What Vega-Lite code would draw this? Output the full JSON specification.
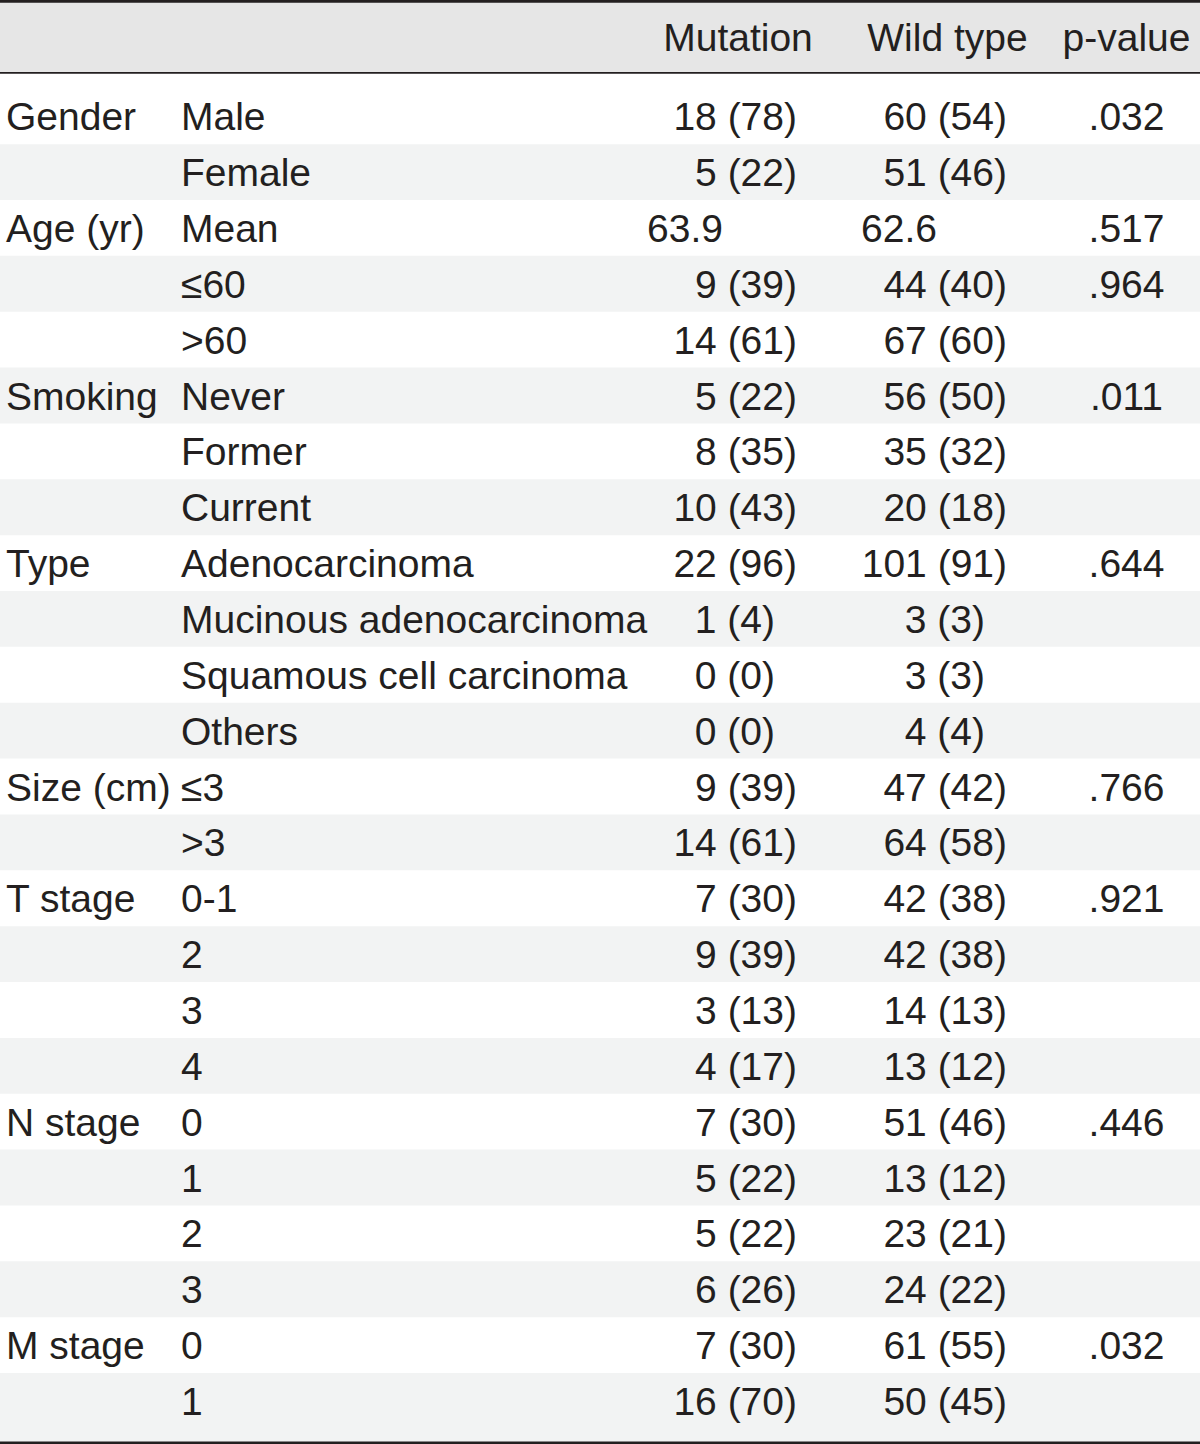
{
  "$schema": "https://vega.github.io/schema/vega-lite/v6.json",
  "width": 1200,
  "height": 1444,
  "autosize": "none",
  "padding": 0,
  "background": "#ffffff",
  "config": {
    "view": {"stroke": null},
    "text": {"font": "Liberation Sans, Arial, sans-serif", "fontSize": 39, "color": "#231f20", "baseline": "alphabetic", "dy": 14}
  },
  "data": {
    "values": [
      {"row": 1, "group": "Gender", "item": "Male", "mutation": "18 (78)", "wildType": "60 (54)", "p": ".032"},
      {"row": 2, "group": "", "item": "Female", "mutation": "5 (22)", "wildType": "51 (46)", "p": ""},
      {"row": 3, "group": "Age (yr)", "item": "Mean", "mutation": "63.9", "wildType": "62.6", "p": ".517"},
      {"row": 4, "group": "", "item": "≤60", "mutation": "9 (39)", "wildType": "44 (40)", "p": ".964"},
      {"row": 5, "group": "", "item": ">60", "mutation": "14 (61)", "wildType": "67 (60)", "p": ""},
      {"row": 6, "group": "Smoking", "item": "Never", "mutation": "5 (22)", "wildType": "56 (50)", "p": ".011"},
      {"row": 7, "group": "", "item": "Former", "mutation": "8 (35)", "wildType": "35 (32)", "p": ""},
      {"row": 8, "group": "", "item": "Current", "mutation": "10 (43)", "wildType": "20 (18)", "p": ""},
      {"row": 9, "group": "Type", "item": "Adenocarcinoma", "mutation": "22 (96)", "wildType": "101 (91)", "p": ".644"},
      {"row": 10, "group": "", "item": "Mucinous adenocarcinoma", "mutation": "1 (4)", "wildType": "3 (3)", "p": ""},
      {"row": 11, "group": "", "item": "Squamous cell carcinoma", "mutation": "0 (0)", "wildType": "3 (3)", "p": ""},
      {"row": 12, "group": "", "item": "Others", "mutation": "0 (0)", "wildType": "4 (4)", "p": ""},
      {"row": 13, "group": "Size (cm)", "item": "≤3", "mutation": "9 (39)", "wildType": "47 (42)", "p": ".766"},
      {"row": 14, "group": "", "item": ">3", "mutation": "14 (61)", "wildType": "64 (58)", "p": ""},
      {"row": 15, "group": "T stage", "item": "0-1", "mutation": "7 (30)", "wildType": "42 (38)", "p": ".921"},
      {"row": 16, "group": "", "item": "2", "mutation": "9 (39)", "wildType": "42 (38)", "p": ""},
      {"row": 17, "group": "", "item": "3", "mutation": "3 (13)", "wildType": "14 (13)", "p": ""},
      {"row": 18, "group": "", "item": "4", "mutation": "4 (17)", "wildType": "13 (12)", "p": ""},
      {"row": 19, "group": "N stage", "item": "0", "mutation": "7 (30)", "wildType": "51 (46)", "p": ".446"},
      {"row": 20, "group": "", "item": "1", "mutation": "5 (22)", "wildType": "13 (12)", "p": ""},
      {"row": 21, "group": "", "item": "2", "mutation": "5 (22)", "wildType": "23 (21)", "p": ""},
      {"row": 22, "group": "", "item": "3", "mutation": "6 (26)", "wildType": "24 (22)", "p": ""},
      {"row": 23, "group": "M stage", "item": "0", "mutation": "7 (30)", "wildType": "61 (55)", "p": ".032"},
      {"row": 24, "group": "", "item": "1", "mutation": "16 (70)", "wildType": "50 (45)", "p": ""}
    ]
  },
  "layer": [
    {
      "data": {"values": [{}]},
      "mark": {"type": "rule", "color": "#e6e6e6", "strokeWidth": 70},
      "encoding": {"y": {"datum": -0.418, "type": "quantitative", "scale": {"domain": [-1.0802, 24.77], "reverse": true, "nice": false, "zero": false}, "axis": null}}
    },
    {
      "transform": [{"filter": "datum.row % 2 == 0"}],
      "mark": {"type": "rule", "color": "#f2f3f3", "strokeWidth": 55.86},
      "encoding": {"y": {"field": "row", "type": "quantitative", "scale": {"domain": [-1.0802, 24.77], "reverse": true, "nice": false, "zero": false}, "axis": null}}
    },
    {
      "data": {"values": [{}]},
      "mark": {"type": "rule", "color": "#f2f3f3", "strokeWidth": 14},
      "encoding": {"y": {"datum": 24.62, "type": "quantitative", "scale": {"domain": [-1.0802, 24.77], "reverse": true, "nice": false, "zero": false}, "axis": null}}
    },
    {
      "data": {"values": [{}]},
      "mark": {"type": "rule", "color": "#231f20", "strokeWidth": 2.7},
      "encoding": {"y": {"datum": -1.057, "type": "quantitative", "scale": {"domain": [-1.0802, 24.77], "reverse": true, "nice": false, "zero": false}, "axis": null}}
    },
    {
      "data": {"values": [{}]},
      "mark": {"type": "rule", "color": "#231f20", "strokeWidth": 1.8},
      "encoding": {"y": {"datum": 0.223, "type": "quantitative", "scale": {"domain": [-1.0802, 24.77], "reverse": true, "nice": false, "zero": false}, "axis": null}}
    },
    {
      "data": {"values": [{}]},
      "mark": {"type": "rule", "color": "#231f20", "strokeWidth": 2.5},
      "encoding": {"y": {"datum": 24.749, "type": "quantitative", "scale": {"domain": [-1.0802, 24.77], "reverse": true, "nice": false, "zero": false}, "axis": null}}
    },
    {
      "data": {"values": [{"label": "Mutation"}]},
      "mark": {"type": "text", "align": "center"},
      "encoding": {
        "x": {"datum": 3, "type": "quantitative", "scale": {"domain": [0, 1, 2, 3, 4, 5, 6, 7, 8, 9, 10], "range": [6, 181, 647, 738, 775, 797, 861, 947.5, 985, 1007, 1126.5], "nice": false, "zero": false}, "axis": null},
        "y": {"datum": -0.418, "type": "quantitative", "scale": {"domain": [-1.0802, 24.77], "reverse": true, "nice": false, "zero": false}, "axis": null},
        "text": {"field": "label"}
      }
    },
    {
      "data": {"values": [{"label": "Wild type"}]},
      "mark": {"type": "text", "align": "center"},
      "encoding": {
        "x": {"datum": 7, "type": "quantitative", "scale": {"domain": [0, 1, 2, 3, 4, 5, 6, 7, 8, 9, 10], "range": [6, 181, 647, 738, 775, 797, 861, 947.5, 985, 1007, 1126.5], "nice": false, "zero": false}, "axis": null},
        "y": {"datum": -0.418, "type": "quantitative", "scale": {"domain": [-1.0802, 24.77], "reverse": true, "nice": false, "zero": false}, "axis": null},
        "text": {"field": "label"}
      }
    },
    {
      "data": {"values": [{"label": "p-value"}]},
      "mark": {"type": "text", "align": "center"},
      "encoding": {
        "x": {"datum": 10, "type": "quantitative", "scale": {"domain": [0, 1, 2, 3, 4, 5, 6, 7, 8, 9, 10], "range": [6, 181, 647, 738, 775, 797, 861, 947.5, 985, 1007, 1126.5], "nice": false, "zero": false}, "axis": null},
        "y": {"datum": -0.418, "type": "quantitative", "scale": {"domain": [-1.0802, 24.77], "reverse": true, "nice": false, "zero": false}, "axis": null},
        "text": {"field": "label"}
      }
    },
    {
      "mark": {"type": "text", "align": "left"},
      "encoding": {
        "x": {"datum": 0, "type": "quantitative", "scale": {"domain": [0, 1, 2, 3, 4, 5, 6, 7, 8, 9, 10], "range": [6, 181, 647, 738, 775, 797, 861, 947.5, 985, 1007, 1126.5], "nice": false, "zero": false}, "axis": null},
        "y": {"field": "row", "type": "quantitative", "scale": {"domain": [-1.0802, 24.77], "reverse": true, "nice": false, "zero": false}, "axis": null},
        "text": {"field": "group"}
      }
    },
    {
      "mark": {"type": "text", "align": "left"},
      "encoding": {
        "x": {"datum": 1, "type": "quantitative", "scale": {"domain": [0, 1, 2, 3, 4, 5, 6, 7, 8, 9, 10], "range": [6, 181, 647, 738, 775, 797, 861, 947.5, 985, 1007, 1126.5], "nice": false, "zero": false}, "axis": null},
        "y": {"field": "row", "type": "quantitative", "scale": {"domain": [-1.0802, 24.77], "reverse": true, "nice": false, "zero": false}, "axis": null},
        "text": {"field": "item"}
      }
    },
    {
      "transform": [{"filter": "indexof(datum.mutation, '(') < 0"}],
      "mark": {"type": "text", "align": "left"},
      "encoding": {
        "x": {"datum": 2, "type": "quantitative", "scale": {"domain": [0, 1, 2, 3, 4, 5, 6, 7, 8, 9, 10], "range": [6, 181, 647, 738, 775, 797, 861, 947.5, 985, 1007, 1126.5], "nice": false, "zero": false}, "axis": null},
        "y": {"field": "row", "type": "quantitative", "scale": {"domain": [-1.0802, 24.77], "reverse": true, "nice": false, "zero": false}, "axis": null},
        "text": {"field": "mutation"}
      }
    },
    {
      "transform": [{"filter": "indexof(datum.mutation, '(') >= 0 && length(datum.mutation) < 6"}],
      "mark": {"type": "text", "align": "right"},
      "encoding": {
        "x": {"datum": 4, "type": "quantitative", "scale": {"domain": [0, 1, 2, 3, 4, 5, 6, 7, 8, 9, 10], "range": [6, 181, 647, 738, 775, 797, 861, 947.5, 985, 1007, 1126.5], "nice": false, "zero": false}, "axis": null},
        "y": {"field": "row", "type": "quantitative", "scale": {"domain": [-1.0802, 24.77], "reverse": true, "nice": false, "zero": false}, "axis": null},
        "text": {"field": "mutation"}
      }
    },
    {
      "transform": [{"filter": "indexof(datum.mutation, '(') >= 0 && length(datum.mutation) >= 6"}],
      "mark": {"type": "text", "align": "right"},
      "encoding": {
        "x": {"datum": 5, "type": "quantitative", "scale": {"domain": [0, 1, 2, 3, 4, 5, 6, 7, 8, 9, 10], "range": [6, 181, 647, 738, 775, 797, 861, 947.5, 985, 1007, 1126.5], "nice": false, "zero": false}, "axis": null},
        "y": {"field": "row", "type": "quantitative", "scale": {"domain": [-1.0802, 24.77], "reverse": true, "nice": false, "zero": false}, "axis": null},
        "text": {"field": "mutation"}
      }
    },
    {
      "transform": [{"filter": "indexof(datum.wildType, '(') < 0"}],
      "mark": {"type": "text", "align": "left"},
      "encoding": {
        "x": {"datum": 6, "type": "quantitative", "scale": {"domain": [0, 1, 2, 3, 4, 5, 6, 7, 8, 9, 10], "range": [6, 181, 647, 738, 775, 797, 861, 947.5, 985, 1007, 1126.5], "nice": false, "zero": false}, "axis": null},
        "y": {"field": "row", "type": "quantitative", "scale": {"domain": [-1.0802, 24.77], "reverse": true, "nice": false, "zero": false}, "axis": null},
        "text": {"field": "wildType"}
      }
    },
    {
      "transform": [{"filter": "indexof(datum.wildType, '(') >= 0 && length(datum.wildType) < 6"}],
      "mark": {"type": "text", "align": "right"},
      "encoding": {
        "x": {"datum": 8, "type": "quantitative", "scale": {"domain": [0, 1, 2, 3, 4, 5, 6, 7, 8, 9, 10], "range": [6, 181, 647, 738, 775, 797, 861, 947.5, 985, 1007, 1126.5], "nice": false, "zero": false}, "axis": null},
        "y": {"field": "row", "type": "quantitative", "scale": {"domain": [-1.0802, 24.77], "reverse": true, "nice": false, "zero": false}, "axis": null},
        "text": {"field": "wildType"}
      }
    },
    {
      "transform": [{"filter": "indexof(datum.wildType, '(') >= 0 && length(datum.wildType) >= 6"}],
      "mark": {"type": "text", "align": "right"},
      "encoding": {
        "x": {"datum": 9, "type": "quantitative", "scale": {"domain": [0, 1, 2, 3, 4, 5, 6, 7, 8, 9, 10], "range": [6, 181, 647, 738, 775, 797, 861, 947.5, 985, 1007, 1126.5], "nice": false, "zero": false}, "axis": null},
        "y": {"field": "row", "type": "quantitative", "scale": {"domain": [-1.0802, 24.77], "reverse": true, "nice": false, "zero": false}, "axis": null},
        "text": {"field": "wildType"}
      }
    },
    {
      "mark": {"type": "text", "align": "center"},
      "encoding": {
        "x": {"datum": 10, "type": "quantitative", "scale": {"domain": [0, 1, 2, 3, 4, 5, 6, 7, 8, 9, 10], "range": [6, 181, 647, 738, 775, 797, 861, 947.5, 985, 1007, 1126.5], "nice": false, "zero": false}, "axis": null},
        "y": {"field": "row", "type": "quantitative", "scale": {"domain": [-1.0802, 24.77], "reverse": true, "nice": false, "zero": false}, "axis": null},
        "text": {"field": "p"}
      }
    }
  ]
}
